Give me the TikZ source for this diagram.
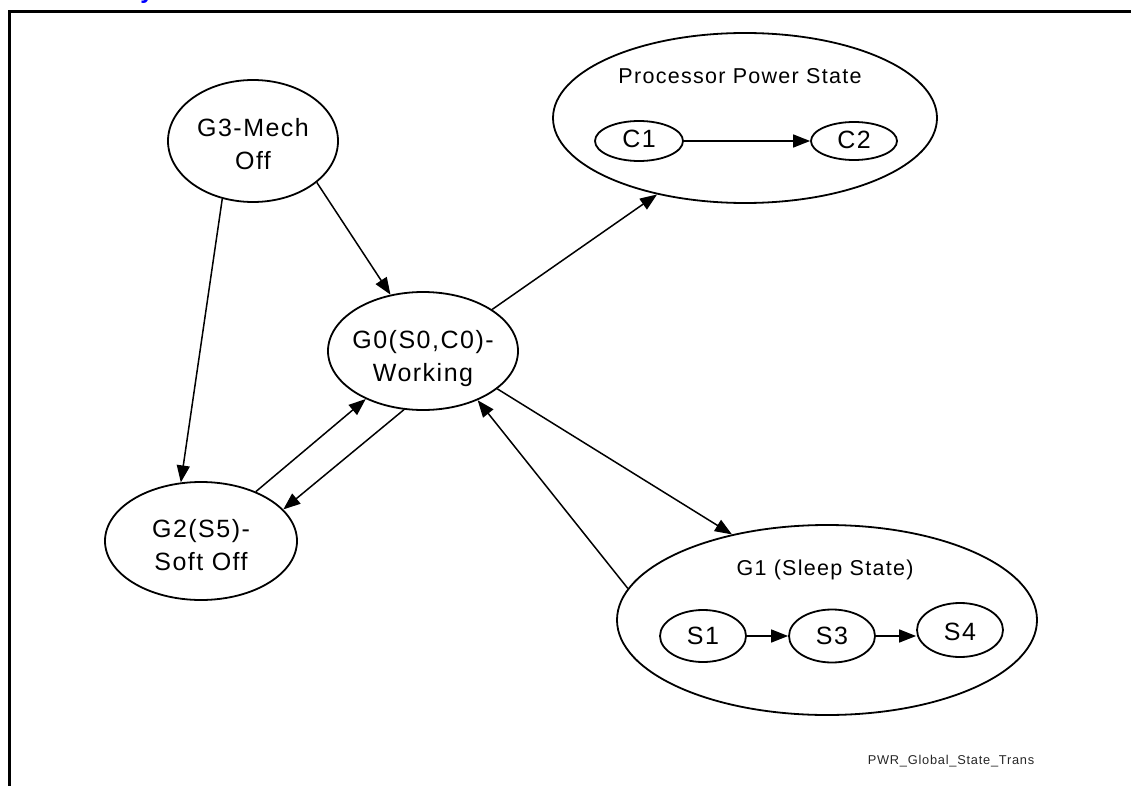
\documentclass[tikz,border=0pt]{standalone}
\usepackage{fontspec}
\setmainfont{Liberation Sans}[LetterSpace=6]
\usetikzlibrary{shapes.geometric,arrows.meta}
\begin{document}
\begin{tikzpicture}[x=1pt,y=-1pt,
  state/.style={draw, ellipse, line width=1.8pt, inner sep=0pt},
  lbl/.style={align=center, inner sep=0pt, font=\fontsize{25}{33}\selectfont},
  title/.style={inner sep=0pt, font=\fontsize{21.5}{26}\selectfont},
  trans/.style={line width=1.5pt, -{Triangle[length=17pt,width=13pt]}}]
\useasboundingbox (0,0) rectangle (1131,786);

% page frame and cut-off heading above it
\draw[line width=3pt] (9.5,786) -- (9.5,12) -- (1131,12);
\node[anchor=base, inner sep=0pt, text=blue, font=\fontsize{24}{24}\selectfont\bfseries] (head) at (147,-1) {y};

% global states
\node[state, minimum width=170pt, minimum height=122pt,
      label={[lbl, yshift=-3pt]center:{G3-Mech\\Off}}] (G3) at (253,141) {};
\node[state, minimum width=190pt, minimum height=118pt,
      label={[lbl, yshift=-8pt]center:{G0(S0,C0)-\\Working}}] (G0) at (423,351) {};
\node[state, minimum width=192pt, minimum height=118pt,
      label={[lbl, yshift=-4pt]center:{G2(S5)-\\Soft Off}}] (G2) at (201,541) {};

% processor power states
\node[state, minimum width=384pt, minimum height=170pt] (PPS) at (745,118) {};
\node[title] (PPSt) at (740,76) {Processor Power State};
\node[state, minimum width=88pt, minimum height=40pt,
      label={[lbl, yshift=2pt]center:C1}] (C1) at (639,141) {};
\node[state, minimum width=86pt, minimum height=38pt,
      label={[lbl, yshift=1pt]center:C2}] (C2) at (854,141) {};

% sleep states
\node[state, minimum width=420pt, minimum height=190pt] (G1) at (827,620) {};
\node[title] (G1t) at (825,570) {G1 (Sleep State)};
\node[state, minimum width=86pt, minimum height=52pt,
      label={[lbl]center:S1}] (S1) at (703,636) {};
\node[state, minimum width=86pt, minimum height=53pt,
      label={[lbl]center:S3}] (S3) at (832,636) {};
\node[state, minimum width=86pt, minimum height=54pt,
      label={[lbl, yshift=-2pt]center:S4}] (S4) at (960,630) {};

% transitions
\draw[trans] (G3.-33) -- (G0.120);
\draw[trans] (G3.-118) -- (G2.109);
\draw[trans] (G0.31) -- (PPS.-139);
\draw[trans] (G0.-27) -- (G1.138);
\draw[trans] (G1.171) -- (G0.-42);
\draw[trans] (G2.42) -- (G0.220);
\draw[trans] (G0.-108) -- (G2.21);
\draw[trans] (C1.east) -- (C2.west);
\draw[trans] (S1.east) -- (S3.west);
\draw[trans] (S3.east) -- (S4.west |- S3.east);

% figure tag
\node[inner sep=0pt, text=black!85, font=\fontsize{12.8}{14}\selectfont] (tag) at (951,761) {PWR\_Global\_State\_Trans};
\end{tikzpicture}
\end{document}
